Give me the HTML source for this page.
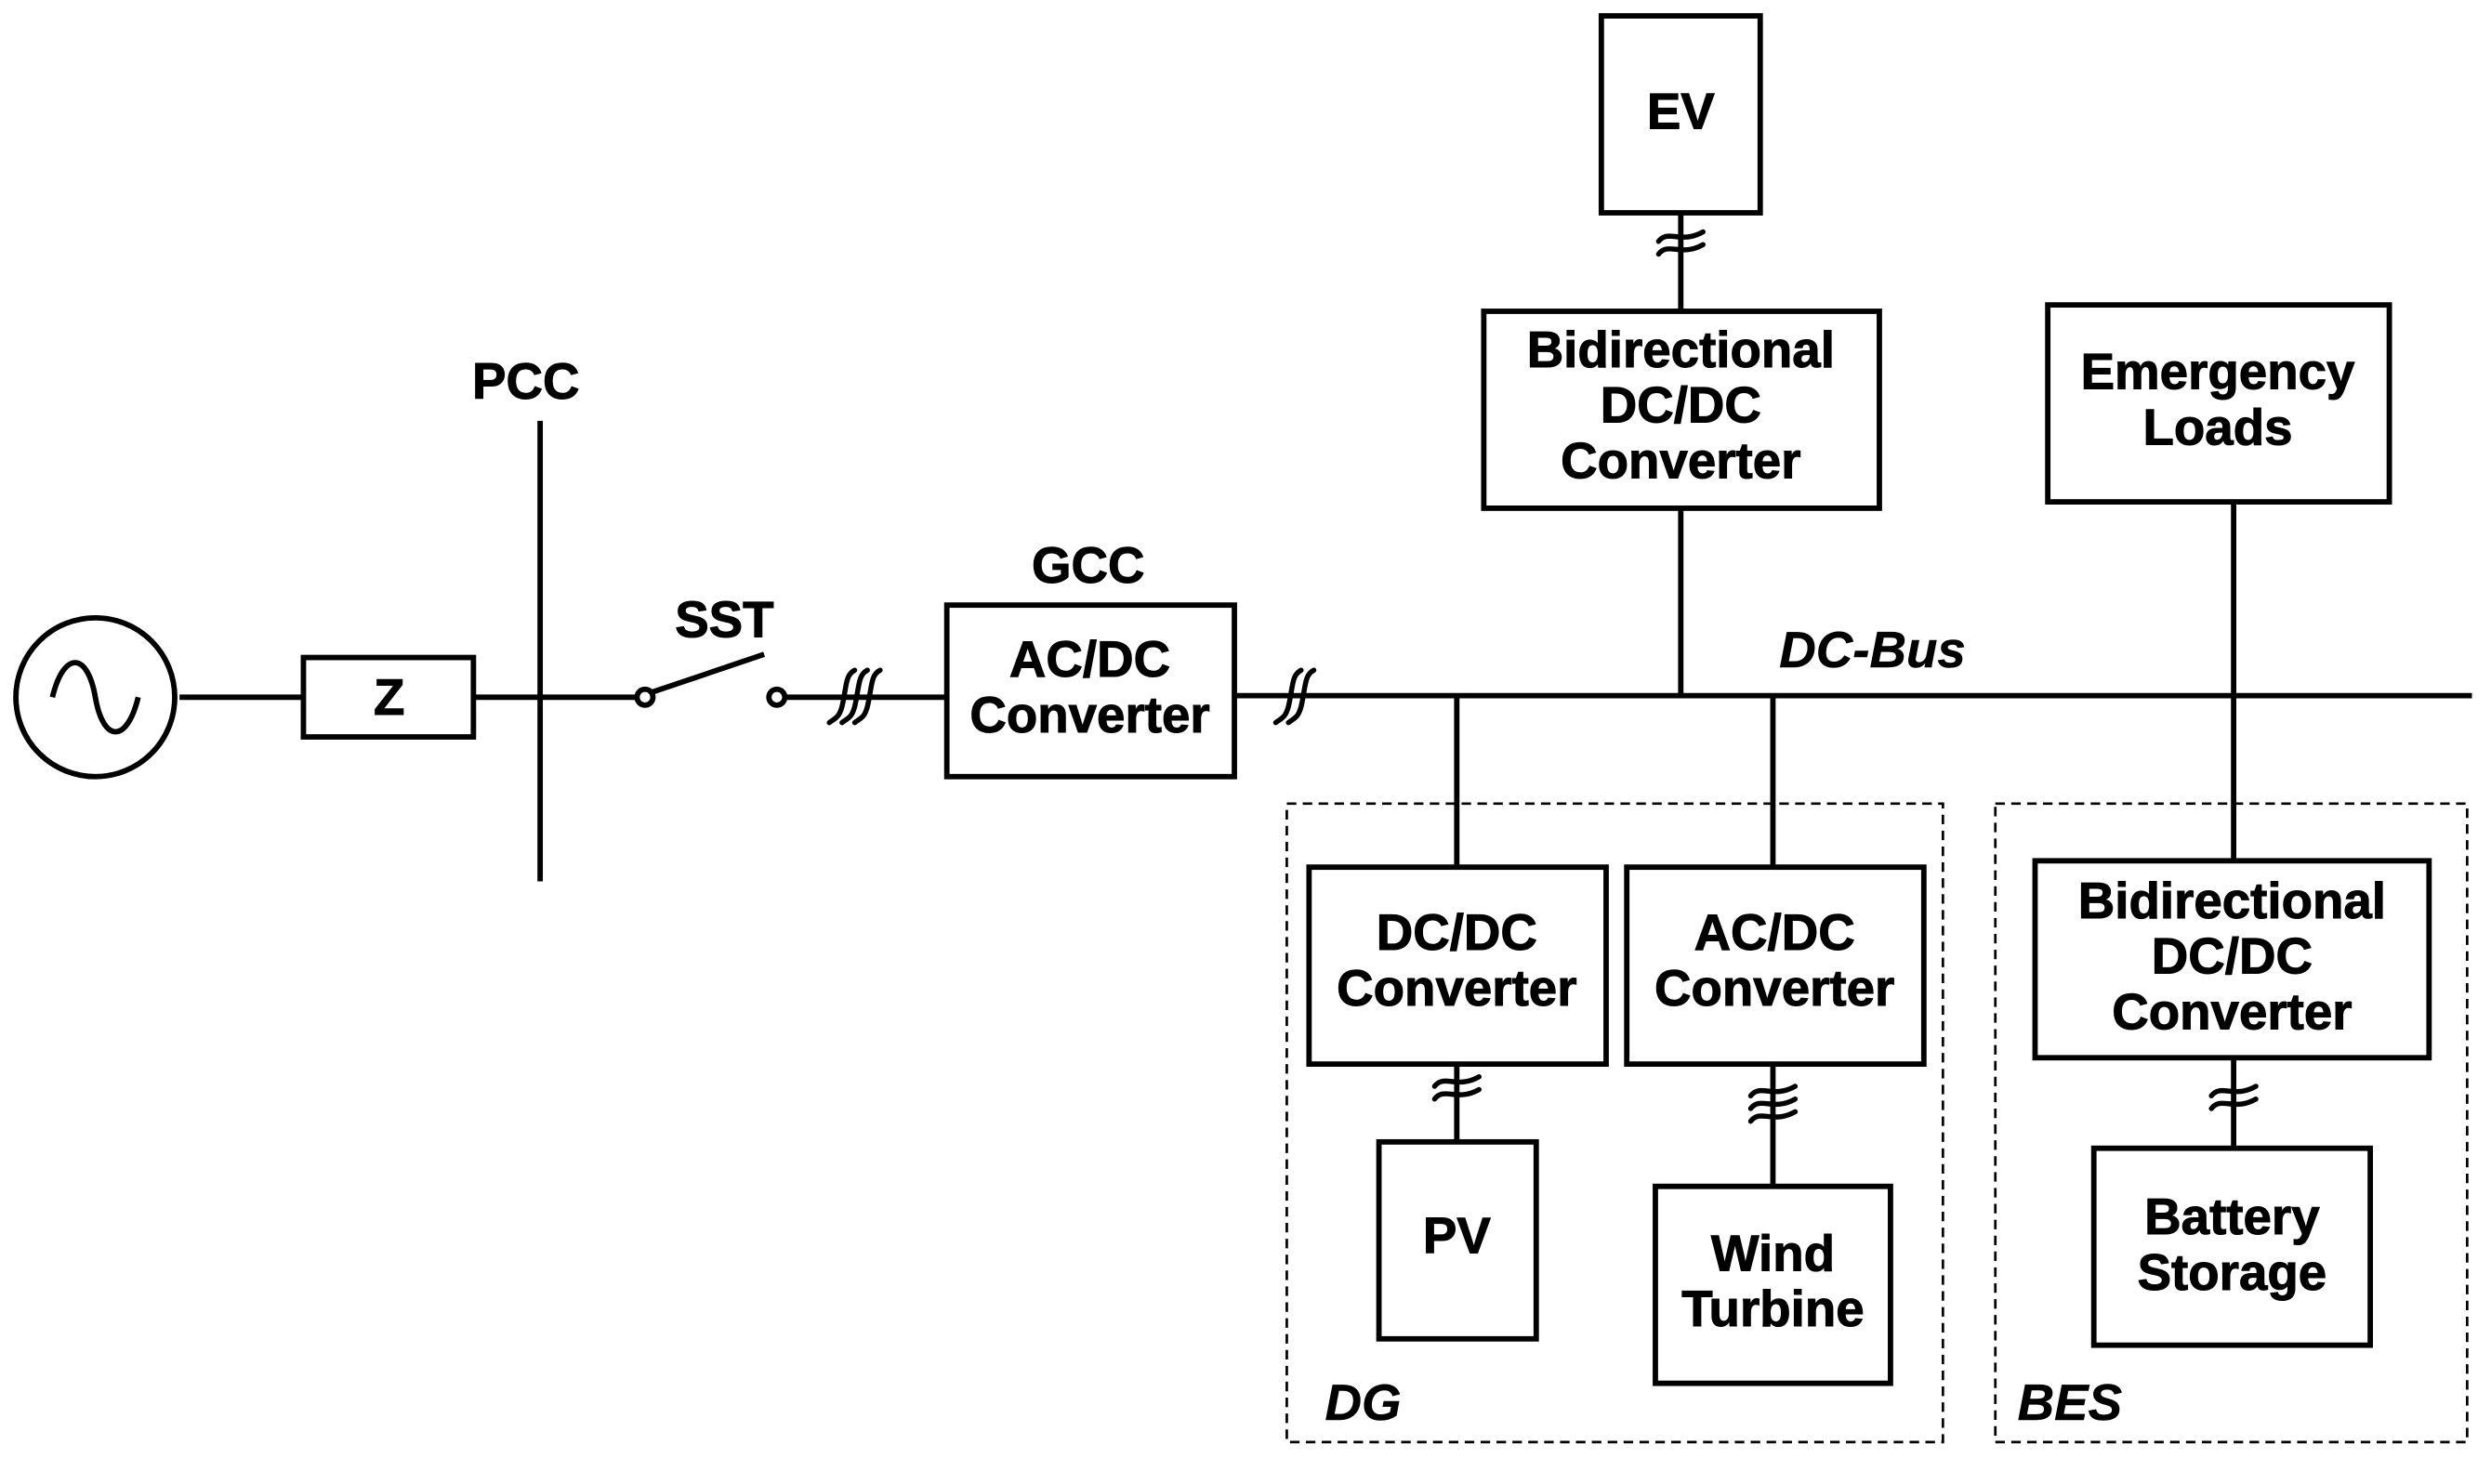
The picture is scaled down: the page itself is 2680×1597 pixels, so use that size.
<!DOCTYPE html>
<html><head><style>html,body{margin:0;padding:0;background:#fff}svg{display:block}</style></head><body>
<svg width="2680" height="1597" viewBox="0 0 1568 934.4" preserveAspectRatio="none" xmlns="http://www.w3.org/2000/svg">
<g fill="none" stroke="#000" stroke-width="3.4">
<circle cx="60" cy="439" r="50"/>
<path d="M33 439 C40 410 55 410 60 439 C65 468 80 468 87 439"/>
<line x1="113" y1="439" x2="191" y2="439"/>
<rect x="191" y="414" width="107" height="50"/>
<line x1="298" y1="439" x2="401" y2="439"/>
<line x1="340" y1="265" x2="340" y2="555"/>
<circle cx="406" cy="439" r="5"/>
<line x1="410" y1="436" x2="481" y2="412"/>
<circle cx="489" cy="439" r="5"/>
<line x1="494" y1="439" x2="596" y2="439"/>
<rect x="596" y="381" width="181" height="108"/>
<line x1="777" y1="438" x2="1556" y2="438"/>
<rect x="1008" y="10" width="100" height="124"/>
<line x1="1058" y1="134" x2="1058" y2="196"/>
<rect x="934" y="196" width="249" height="124"/>
<line x1="1058" y1="320" x2="1058" y2="438"/>
<rect x="1289" y="192" width="215" height="124"/>
<line x1="1406" y1="316" x2="1406" y2="542"/>
<rect x="824" y="546" width="187" height="124"/>
<line x1="917" y1="438" x2="917" y2="546"/>
<line x1="917" y1="670" x2="917" y2="719"/>
<rect x="868" y="719" width="99" height="124"/>
<rect x="1024" y="546" width="187" height="124"/>
<line x1="1116" y1="438" x2="1116" y2="546"/>
<line x1="1116" y1="670" x2="1116" y2="747"/>
<rect x="1042" y="747" width="148" height="124"/>
<rect x="1281" y="542" width="248" height="124"/>
<line x1="1406" y1="666" x2="1406" y2="723"/>
<rect x="1318" y="723" width="174" height="124"/>
</g>
<g fill="none" stroke="#000" stroke-width="1.6" stroke-dasharray="6,4">
<rect x="810" y="506" width="413" height="402"/>
<rect x="1256" y="506" width="297" height="402"/>
</g>
<g fill="none" stroke="#000" stroke-width="3.2" stroke-linecap="round">
<path d="M522 455 C526 452 528 452 530 445 C533 432 532 425 538 422"/>
<path d="M530 455 C534 452 536 452 538 445 C541 432 540 425 546 422"/>
<path d="M538 455 C542 452 544 452 546 445 C549 432 548 425 554 422"/>
<path d="M803 455 C807 452 809 452 811 445 C814 432 813 425 819 422"/>
<path d="M811 455 C815 452 817 452 819 445 C822 432 821 425 827 422"/>
<path d="M1044 152 C1050 144 1058 154 1072 146"/><path d="M1044 160 C1050 152 1058 162 1072 154"/>
<path d="M903 684 C909 676 917 686 931 678"/><path d="M903 692 C909 684 917 694 931 686"/>
<path d="M1102 690 C1108 682 1116 692 1130 684"/><path d="M1102 698 C1108 690 1116 700 1130 692"/><path d="M1102 706 C1108 698 1116 708 1130 700"/>
<path d="M1392 690 C1398 682 1406 692 1420 684"/><path d="M1392 698 C1398 690 1406 700 1420 692"/>
</g>
<g font-family="Liberation Sans, sans-serif" font-weight="bold" font-size="32" text-anchor="middle" fill="#000" stroke="#000" stroke-width="0.6">
<text x="245" y="450">Z</text>
<text x="331" y="251">PCC</text>
<text x="456" y="401">SST</text>
<text x="685" y="367">GCC</text>
<text x="686" y="426">AC/DC</text>
<text x="686" y="461">Converter</text>
<text x="1058" y="81">EV</text>
<text x="1058" y="231">Bidirectional</text>
<text x="1058" y="266">DC/DC</text>
<text x="1058" y="301">Converter</text>
<text x="1396" y="245">Emergency</text>
<text x="1396" y="280">Loads</text>
<text x="917" y="598">DC/DC</text>
<text x="917" y="633">Converter</text>
<text x="917" y="789">PV</text>
<text x="1117" y="598">AC/DC</text>
<text x="1117" y="633">Converter</text>
<text x="1116" y="800">Wind</text>
<text x="1116" y="835">Turbine</text>
<text x="1405" y="578">Bidirectional</text>
<text x="1405" y="613">DC/DC</text>
<text x="1405" y="648">Converter</text>
<text x="1405" y="777">Battery</text>
<text x="1405" y="812">Storage</text>
<g font-style="italic" text-anchor="start" stroke-width="0.3">
<text x="1120" y="420">DC-Bus</text>
<text x="834" y="894">DG</text>
<text x="1270" y="894">BES</text>
</g>
</g>
</svg>
</body></html>
